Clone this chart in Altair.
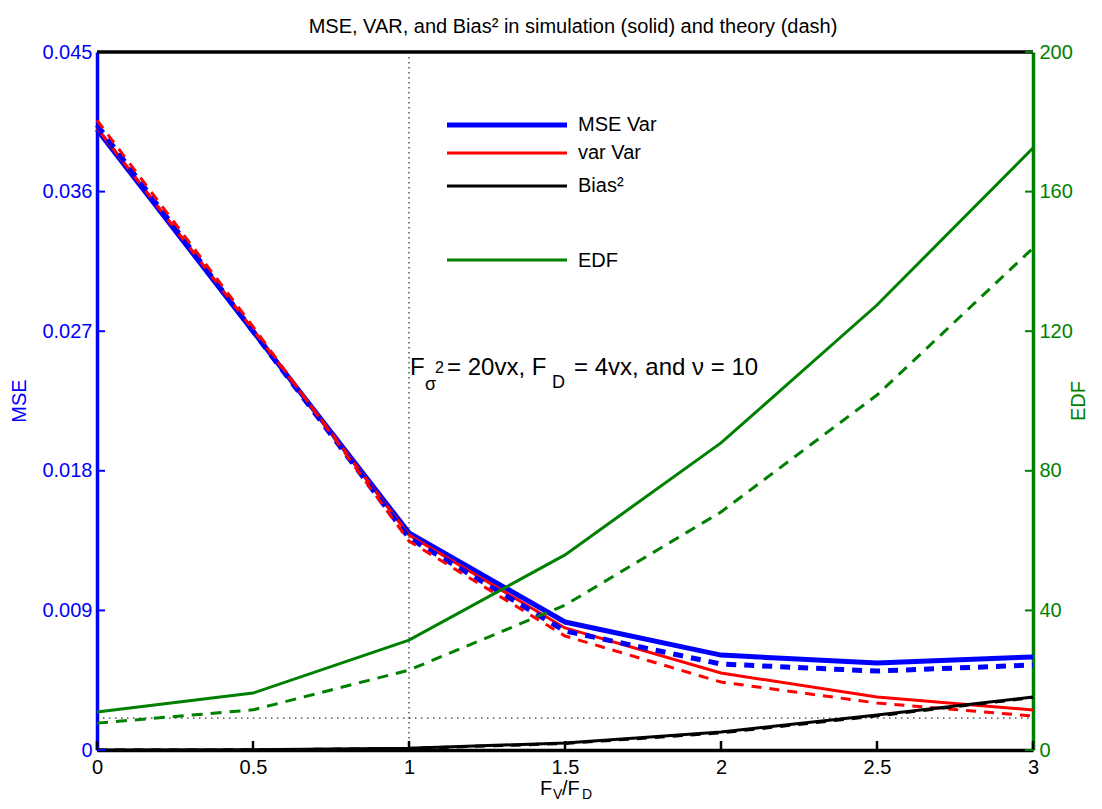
import altair as alt
import pandas as pd

# ---------------- data ----------------
x_vals = [0, 0.5, 1, 1.5, 2, 2.5, 3]

mse_sim = [0.0400, 0.0270, 0.0140, 0.00825, 0.00612, 0.00561, 0.0060]
mse_theory = [0.0403, 0.0270, 0.01367, 0.00767, 0.00554, 0.00509, 0.00548]
var_sim = [0.0401, 0.0271, 0.01386, 0.00787, 0.00496, 0.00342, 0.00258]
var_theory = [0.0406, 0.0273, 0.01347, 0.00735, 0.00438, 0.00303, 0.00219]
bias_sim = [0.0, 0.00002, 0.00012, 0.00045, 0.00116, 0.00226, 0.00342]
bias_theory = [0.0, 0.00001, 0.00010, 0.00042, 0.00110, 0.00220, 0.00338]
edf_sim = [10.9, 16.3, 31.5, 55.9, 88.0, 127.5, 172.5]
edf_theory = [7.7, 11.5, 22.9, 41.5, 68.2, 101.7, 143.8]

vline_x = [1.0]
hline_mse = [0.00206]

x_ticks = [0, 0.5, 1, 1.5, 2, 2.5, 3]
mse_ticks = [0, 0.009, 0.018, 0.027, 0.036, 0.045]
edf_ticks = [0, 40, 80, 120, 160, 200]

legend_labels = ["MSE Var", "var Var", "Bias\u00b2", "EDF"]

# ---------------- style ----------------
FONT = "Liberation Sans"
W, H = 936, 698
BLUE, RED, GREEN, BLACK = "#0000ff", "#ff0000", "#008000", "#000000"

x_scale = alt.Scale(domain=[0, 3], nice=False, zero=False)
mse_scale = alt.Scale(domain=[0, 0.045], nice=False)
edf_scale = alt.Scale(domain=[0, 200], nice=False)

x_axis = alt.Axis(values=x_ticks, format="~g", ticks=False, tickSize=0, grid=False,
                  domainColor=BLACK, domainWidth=3.5, labelFont=FONT, labelFontSize=20,
                  labelColor=BLACK, labelPadding=7, labelFlush=False, labelOverlap=False,
                  orient="bottom")
mse_axis = alt.Axis(values=mse_ticks, format=".3~f", ticks=False, tickSize=0, grid=False,
                    domainColor=BLUE, domainWidth=3.5, labelFont=FONT, labelFontSize=20,
                    labelColor=BLUE, labelPadding=5, labelFlush=False, labelOverlap=False,
                    orient="left")
edf_axis = alt.Axis(values=edf_ticks, format="d", ticks=False, tickSize=0, grid=False,
                    domainColor=GREEN, domainWidth=3.5, labelFont=FONT, labelFontSize=20,
                    labelColor=GREEN, labelPadding=6, labelFlush=False, labelOverlap=False,
                    orient="right")

one = pd.DataFrame({"a": [0]})


def X(field="x"):
    return alt.X(f"{field}:Q", scale=x_scale, axis=x_axis, title=None)


def Ymse(field="y"):
    return alt.Y(f"{field}:Q", scale=mse_scale, axis=mse_axis, title=None)


def Yedf(field="y"):
    return alt.Y(f"{field}:Q", scale=edf_scale, axis=edf_axis, title=None)


def line(vals, color, width, yenc, dash=None):
    df = pd.DataFrame({"x": x_vals, "y": vals})
    kw = dict(color=color, strokeWidth=width)
    if dash:
        kw["strokeDash"] = dash
    return alt.Chart(df).mark_line(**kw).encode(x=X(), y=yenc())


def text(t, x, y, size=20, color=BLACK, align="left", baseline="alphabetic", angle=None):
    kw = dict(text=t, font=FONT, fontSize=size, color=color, align=align, baseline=baseline)
    if angle is not None:
        kw["angle"] = angle
    return alt.Chart(one).mark_text(**kw).encode(x=alt.value(x), y=alt.value(y))


def legend_rule(y, color, width):
    return alt.Chart(one).mark_rule(color=color, strokeWidth=width).encode(
        x=alt.value(350), x2=alt.value(470), y=alt.value(y))


# ---------------- MSE (left axis) layers ----------------
DASH = [10, 8]
dotted_v = alt.Chart(pd.DataFrame({"x": vline_x})).mark_rule(
    color=BLACK, strokeWidth=1, strokeDash=[1.5, 3.5]).encode(
    x=X(), y=alt.value(0), y2=alt.value(H))
dotted_h = alt.Chart(pd.DataFrame({"y": hline_mse})).mark_rule(
    color=BLACK, strokeWidth=1, strokeDash=[1.5, 4.5]).encode(
    y=Ymse(), x=alt.value(0), x2=alt.value(W))

left_ticks = alt.Chart(pd.DataFrame({"v": mse_ticks})).mark_rule(
    color=BLUE, strokeWidth=2).encode(y=Ymse("v"), x=alt.value(0), x2=alt.value(8))
bottom_ticks = alt.Chart(pd.DataFrame({"x": x_ticks})).mark_rule(
    color=BLACK, strokeWidth=2.5).encode(x=X(), y=alt.value(H), y2=alt.value(H - 9))
top_line = alt.Chart(one).mark_rule(color=BLACK, strokeWidth=3.5).encode(
    x=alt.value(0), x2=alt.value(W), y=alt.value(0))

mse_group = alt.layer(
    dotted_v, dotted_h,
    line(mse_sim, BLUE, 5, Ymse),
    line(var_sim, RED, 3, Ymse),
    line(mse_theory, BLUE, 5, Ymse, DASH),
    line(var_theory, RED, 3, Ymse, DASH),
    line(bias_sim, BLACK, 3, Ymse),
    line(bias_theory, BLACK, 3, Ymse, DASH),
    left_ticks, bottom_ticks, top_line,
    # title
    text("MSE, VAR, and Bias\u00b2 in simulation (solid) and theory (dash)", 476, -19,
         align="center"),
    # y-axis title
    text("MSE", -77, H / 2, color=BLUE, align="center", baseline="middle", angle=270),
    # x-axis title F_V/F_D
    text("F", 443, 743), text("V", 456, 747, size=14),
    text("/F", 465, 743), text("D", 485, 747, size=14),
    # annotation
    text("F", 313, 323, size=24), text("\u03c3", 328, 338, size=18),
    text("2", 338, 321, size=16),
    text("= 20vx, F", 350, 323, size=24), text("D", 455, 336, size=18),
    text("= 4vx, and \u03bd = 10", 477, 323, size=24),
    # legend
    legend_rule(73, BLUE, 5), legend_rule(101, RED, 3),
    legend_rule(134, BLACK, 3), legend_rule(208, GREEN, 3),
    text(legend_labels[0], 481, 73, baseline="middle"),
    text(legend_labels[1], 481, 101, baseline="middle"),
    text(legend_labels[2], 481, 134, baseline="middle"),
    text(legend_labels[3], 481, 209, baseline="middle"),
)

# ---------------- EDF (right axis) layers ----------------
right_ticks = alt.Chart(pd.DataFrame({"v": edf_ticks})).mark_rule(
    color=GREEN, strokeWidth=2).encode(y=Yedf("v"), x=alt.value(W - 8), x2=alt.value(W))

edf_group = alt.layer(
    line(edf_sim, GREEN, 3, Yedf),
    line(edf_theory, GREEN, 3, Yedf, [11, 8]),
    right_ticks,
    text("EDF", 982, H / 2, color=GREEN, align="center", baseline="middle", angle=270),
)

chart = alt.layer(mse_group, edf_group).resolve_scale(y="independent").properties(
    width=W, height=H,
    autosize=alt.AutoSizeParams(type="none"),
    padding={"left": 89, "top": 44, "right": 61, "bottom": 51},
).configure_view(strokeWidth=0)

chart.save("out.html", embed_options={"renderer": "svg", "actions": False})
